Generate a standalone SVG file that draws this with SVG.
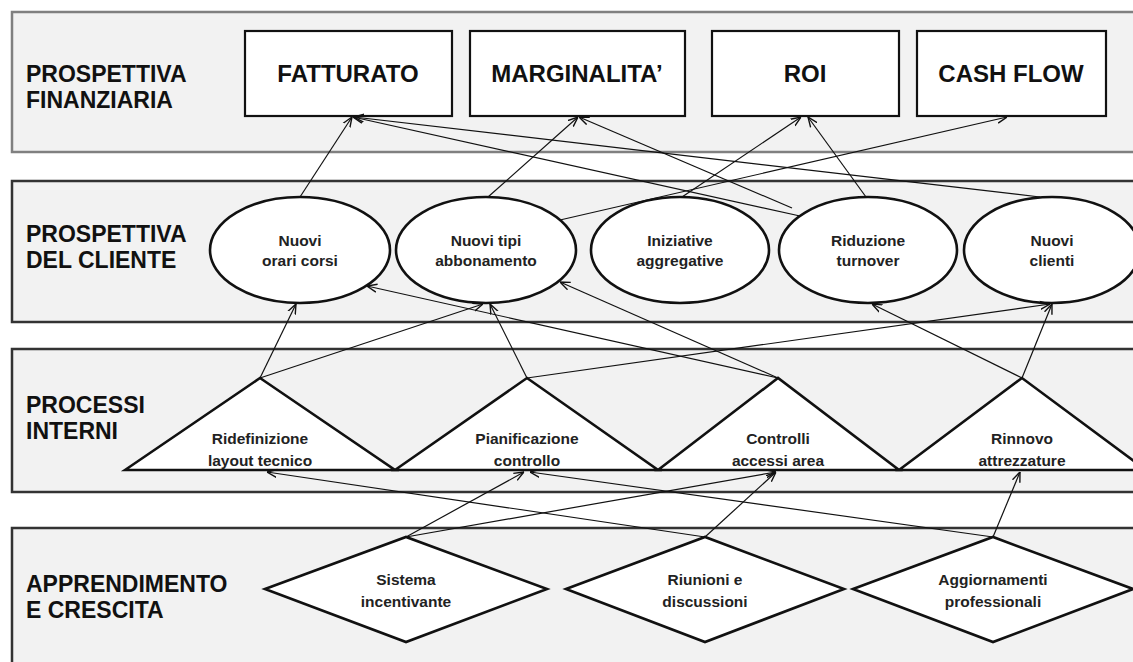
<svg xmlns="http://www.w3.org/2000/svg" width="1133" height="662" viewBox="0 0 1133 662">
<style>
.band{fill:#f2f2f2;stroke:#333;stroke-width:2.5}
.band1{fill:#f2f2f2;stroke:#808080;stroke-width:2.5}
.box{fill:#fff;stroke:#111;stroke-width:2.2}
.shape{fill:#fff;stroke:#111;stroke-width:2.6}
.lbl{font-family:"Liberation Sans",Arial,sans-serif;font-weight:bold;font-size:23px;fill:#111}
.bt{font-family:"Liberation Sans",Arial,sans-serif;font-weight:bold;font-size:24px;fill:#111;text-anchor:middle}
.nt{font-family:"Liberation Sans",Arial,sans-serif;font-weight:bold;font-size:15.5px;fill:#222;text-anchor:middle}
.c{fill:none;stroke:#111;stroke-width:1.2;marker-end:url(#ah)}
</style>
<defs>
<marker id="ah" viewBox="0 0 10 10" refX="10" refY="5" markerWidth="10" markerHeight="10" markerUnits="userSpaceOnUse" orient="auto">
<path d="M0,1 L10,5 L0,9" fill="none" stroke="#111" stroke-width="1.4"/>
</marker>
</defs>
<rect width="1133" height="662" fill="#fff"/>
<g id="bands">
<rect class="band1" x="12" y="12" width="1140" height="140"/>
<rect class="band" x="12" y="181" width="1140" height="141"/>
<rect class="band" x="12" y="349" width="1140" height="143"/>
<rect class="band" x="12" y="528" width="1140" height="150"/>
<text class="lbl" x="26" y="82">PROSPETTIVA</text>
<text class="lbl" x="26" y="108">FINANZIARIA</text>
<text class="lbl" x="26" y="242">PROSPETTIVA</text>
<text class="lbl" x="26" y="268">DEL CLIENTE</text>
<text class="lbl" x="26" y="413">PROCESSI</text>
<text class="lbl" x="26" y="439">INTERNI</text>
<text class="lbl" x="26" y="592">APPRENDIMENTO</text>
<text class="lbl" x="26" y="618">E CRESCITA</text>
</g>
<g id="fatturato"><rect class="box" x="245" y="31" width="207" height="85"/><text class="bt" x="348" y="82">FATTURATO</text></g>
<g id="marginalita"><rect class="box" x="470" y="31" width="215" height="85"/><text class="bt" x="577" y="82">MARGINALITA’</text></g>
<g id="roi"><rect class="box" x="712" y="31" width="187" height="85"/><text class="bt" x="805" y="82">ROI</text></g>
<g id="cashflow"><rect class="box" x="917" y="31" width="189" height="85"/><text class="bt" x="1011" y="82">CASH FLOW</text></g>

<g id="e1"><ellipse class="shape" cx="300" cy="250" rx="90" ry="53"/><text class="nt" x="300" y="246">Nuovi</text><text class="nt" x="300" y="266">orari corsi</text></g>
<g id="e2"><ellipse class="shape" cx="486" cy="250" rx="90" ry="53"/><text class="nt" x="486" y="246">Nuovi tipi</text><text class="nt" x="486" y="266">abbonamento</text></g>
<g id="e3"><ellipse class="shape" cx="680" cy="250" rx="89" ry="53"/><text class="nt" x="680" y="246">Iniziative</text><text class="nt" x="680" y="266">aggregative</text></g>
<g id="e4"><ellipse class="shape" cx="868" cy="250" rx="89" ry="53"/><text class="nt" x="868" y="246">Riduzione</text><text class="nt" x="868" y="266">turnover</text></g>
<g id="e5"><ellipse class="shape" cx="1052" cy="250" rx="88" ry="53"/><text class="nt" x="1052" y="246">Nuovi</text><text class="nt" x="1052" y="266">clienti</text></g>

<g id="t1"><polygon class="shape" points="125,470 260,378 395,470"/><text class="nt" x="260" y="444">Ridefinizione</text><text class="nt" x="260" y="466">layout tecnico</text></g>
<g id="t2"><polygon class="shape" points="395,470 527,378 658,470"/><text class="nt" x="527" y="444">Pianificazione</text><text class="nt" x="527" y="466">controllo</text></g>
<g id="t3"><polygon class="shape" points="658,470 778,378 899,470"/><text class="nt" x="778" y="444">Controlli</text><text class="nt" x="778" y="466">accessi area</text></g>
<g id="t4"><polygon class="shape" points="899,470 1022,378 1146,470"/><text class="nt" x="1022" y="444">Rinnovo</text><text class="nt" x="1022" y="466">attrezzature</text></g>

<g id="d1"><polygon class="shape" points="265,589 406,537 547,589 406,642"/><text class="nt" x="406" y="585">Sistema</text><text class="nt" x="406" y="607">incentivante</text></g>
<g id="d2"><polygon class="shape" points="566,589 705,537 844,589 705,642"/><text class="nt" x="705" y="585">Riunioni e</text><text class="nt" x="705" y="607">discussioni</text></g>
<g id="d3"><polygon class="shape" points="853,589 993,537 1133,589 993,642"/><text class="nt" x="993" y="585">Aggiornamenti</text><text class="nt" x="993" y="607">professionali</text></g>

<g id="connectors">
<line class="c" x1="300" y1="197" x2="352" y2="117"/>
<line class="c" x1="488" y1="197" x2="578" y2="117"/>
<line class="c" x1="560" y1="220" x2="1007" y2="117"/>
<line class="c" x1="682" y1="197" x2="801" y2="117"/>
<line class="c" x1="800" y1="216" x2="353" y2="117"/>
<line class="c" x1="792" y1="208" x2="579" y2="117"/>
<line class="c" x1="866" y1="197" x2="808" y2="117"/>
<line class="c" x1="1040" y1="197" x2="354" y2="117"/>
<line class="c" x1="260" y1="378" x2="296" y2="304"/>
<line class="c" x1="260" y1="378" x2="483" y2="304"/>
<line class="c" x1="527" y1="378" x2="490" y2="304"/>
<line class="c" x1="527" y1="378" x2="1050" y2="304"/>
<line class="c" x1="778" y1="378" x2="367" y2="286"/>
<line class="c" x1="778" y1="378" x2="560" y2="282"/>
<line class="c" x1="1022" y1="378" x2="872" y2="304"/>
<line class="c" x1="1022" y1="378" x2="1052" y2="304"/>
<line class="c" x1="406" y1="537" x2="524" y2="472"/>
<line class="c" x1="406" y1="537" x2="776" y2="472"/>
<line class="c" x1="705" y1="537" x2="267" y2="472"/>
<line class="c" x1="705" y1="537" x2="776" y2="472"/>
<line class="c" x1="993" y1="537" x2="530" y2="472"/>
<line class="c" x1="993" y1="537" x2="1020" y2="472"/>
</g>
</svg>
